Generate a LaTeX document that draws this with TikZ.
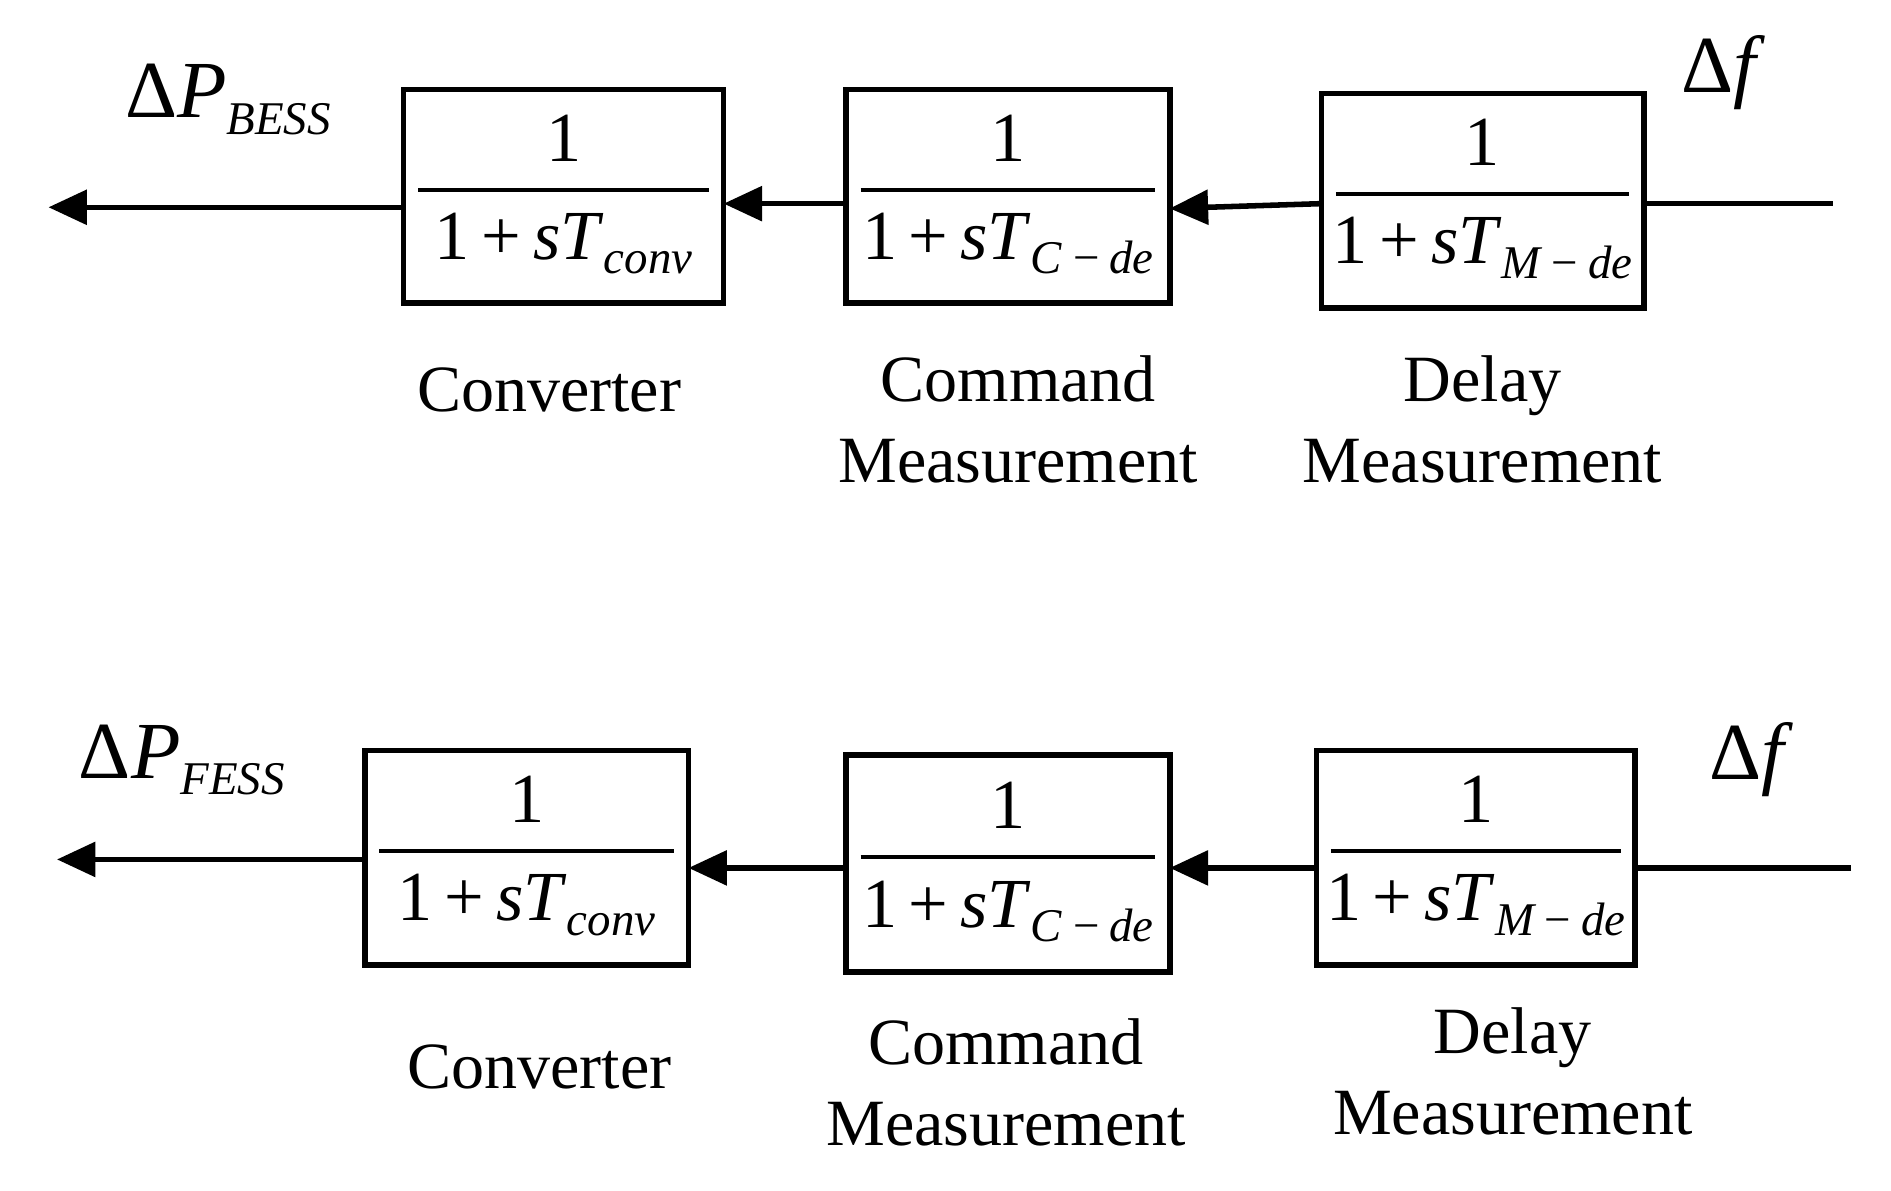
\documentclass[tikz,border=0pt]{standalone}
\usepackage{fontspec}
\setmainfont{Liberation Serif}
\usetikzlibrary{arrows.meta}
\newcommand{\isub}[1]{\raisebox{-0.45ex}{\fontsize{11}{12}\selectfont\itshape #1}}
\begin{document}
\begin{tikzpicture}[x=0.01cm,y=-0.01cm,
 sig/.style={line width=1.3pt,-{Triangle[length=9pt,width=8pt]}},
 lab/.style={font=\fontsize{15.5}{19}\selectfont,align=center},
 tf/.style={font=\fontsize{16.5}{18}\selectfont},
 big/.style={font=\fontsize{19}{20}\selectfont}]
\useasboundingbox (0,0) rectangle (1560,982);
\newcommand{\tfbox}[6]{%
 \draw[line width=1.3pt] (#1,#2) rectangle (#3,#4);
 \node[tf] at ({(#1+#3)/2},{#2+0.23*(#4-#2)}) {1};
 \draw[line width=1pt] ({#1+12},{#2+0.47*(#4-#2)}) -- ({#3-12},{#2+0.47*(#4-#2)});
 \node[tf] at ({(#1+#3)/2},{#2+0.72*(#4-#2)}) {1\,+\,\textit{sT}\isub{#5}};
 \coordinate (#6w) at (#1,{(#2+#4)/2});
 \coordinate (#6e) at (#3,{(#2+#4)/2});}
% top row
\tfbox{333}{74}{597}{250}{conv}{a1}
\tfbox{698}{74}{965}{250}{C\,−\,de}{a2}
\tfbox{1090}{77}{1356}{254}{M\,−\,de}{a3}
\coordinate (ain) at (1512,168);
\coordinate (aout) at (40,171);
\draw[line width=1.3pt] (ain) -- (1356,168);
\draw[sig] (1090,168) -- (965,172);
\draw[sig] (698,168) -- (597,168);
\draw[sig] (333,171) -- (aout);
\node[lab] at (453,322) {Converter};
\node[lab] at (840,346) {Command\\Measurement};
\node[lab] at (1223,346) {Delay\\Measurement};
\node[big] at (188,82) {Δ\textit{P}\isub{BESS}};
\node[big] at (1422,60) {Δ\textit{f}};
% bottom row
\tfbox{301}{619}{568}{796}{conv}{b1}
\tfbox{698}{623}{965}{802}{C\,−\,de}{b2}
\tfbox{1086}{619}{1349}{796}{M\,−\,de}{b3}
\coordinate (bin) at (1527,716);
\coordinate (bout) at (47,709);
\draw[line width=1.3pt] (bin) -- (1349,716);
\draw[sig] (1086,716) -- (965,716);
\draw[sig] (698,716) -- (568,716);
\draw[sig] (301,709) -- (bout);
\node[lab] at (445,880) {Converter};
\node[lab] at (830,893) {Command\\Measurement};
\node[lab] at (1248,884) {Delay\\Measurement};
\node[big] at (150,627) {Δ\textit{P}\isub{FESS}};
\node[big] at (1445,627) {Δ\textit{f}};
\end{tikzpicture}
\end{document}
